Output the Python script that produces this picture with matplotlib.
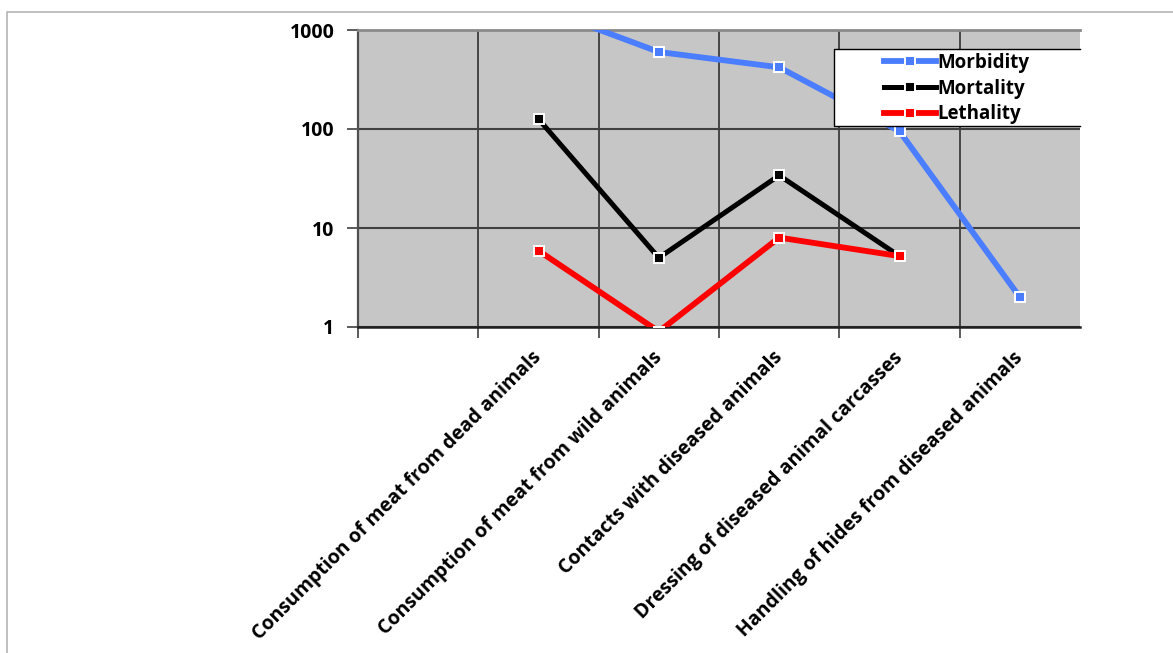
import numpy as np
import matplotlib
matplotlib.use("Agg")
import matplotlib.pyplot as plt
from matplotlib.lines import Line2D
from matplotlib.patches import Rectangle

# categories (first slot of the chart is empty)
categories = ["", "Consumption of meat from dead animals", "Consumption of meat from wild animals",
              "Contacts with diseased animals", "Dressing of diseased animal carcasses",
              "Handling of hides from diseased animals"]
morbidity = [np.nan, 1700, 600, 420, 95, 2]
mortality = [np.nan, 126, 5, 34, 5.2, np.nan]
lethality = [np.nan, 5.9, 0.9, 8, 5.2, np.nan]
y_ticks = [1, 10, 100, 1000]

plt.rcParams['font.family'] = ['Open Sans', 'DejaVu Sans']
plt.rcParams['font.weight'] = 'bold'

W, H = 1173, 653
fig = plt.figure(figsize=(W / 100, H / 100), dpi=100)


def fx(px):
    return px / W


def fy(py):
    return 1 - py / H


# outer chart frame (top and left edges visible)
fig.add_artist(Line2D([fx(7), fx(7), 1], [0, fy(12), fy(12)], color='#b4b4b4', lw=1.2))

ax = fig.add_axes([fx(358), fy(327), fx(1080) - fx(358), fy(30) - fy(327)])
ax.set_facecolor('#c6c6c6')
ax.set_yscale('log')
ax.set_ylim(1, 1000)
x = np.arange(len(categories))
ax.set_xlim(-0.5, len(categories) - 0.5)

# grid
ax.xaxis.set_minor_locator(matplotlib.ticker.FixedLocator(list(x[:-1] + 0.5) + [-0.5]))
ax.grid(True, which='minor', axis='x', color='#303030', lw=1.2)
ax.grid(True, which='major', axis='y', color='#404040', lw=1.5)
ax.set_axisbelow(True)

series = [(morbidity, '#4a7dff', 'Morbidity', 4.2),
          (mortality, 'black', 'Mortality', 3.6),
          (lethality, '#ff0000', 'Lethality', 4.2)]
handles = []
for vals, col, name, lw in series:
    h, = ax.plot(x, vals, color=col, lw=lw, marker='s', markersize=6.5, markerfacecolor=col,
                 markeredgecolor='white', markeredgewidth=1.4, label=name, zorder=3)
    handles.append(h)

ax.set_yticks(y_ticks)
ax.set_yticklabels([str(t) for t in y_ticks])
ax.yaxis.set_minor_locator(matplotlib.ticker.NullLocator())
ax.tick_params(axis='y', which='major', length=8, width=1.2, color='#404040', pad=9, labelsize=14)

ax.set_xticks(x)
ax.set_xticklabels(categories, rotation=45, ha='right', va='center', rotation_mode='anchor', fontsize=14)
ax.tick_params(axis='x', which='major', length=0, pad=20)
ax.tick_params(axis='x', which='minor', length=8, width=1.2, color='#404040')

ax.spines['right'].set_visible(False)
ax.spines['top'].set_color('#8a8a8a')
ax.spines['top'].set_linewidth(2)
ax.spines['left'].set_color('#505050')
ax.spines['left'].set_linewidth(1.6)
ax.spines['bottom'].set_color('#202020')
ax.spines['bottom'].set_linewidth(1.8)

# legend box, open on the right side where the chart area is cut
fig.add_artist(Rectangle((fx(834), fy(126)), fx(1080) - fx(834), fy(49) - fy(126),
                         transform=fig.transFigure, facecolor='white', edgecolor='none', zorder=5))
fig.add_artist(Line2D([fx(1080), fx(834), fx(834), fx(1080)], [fy(49), fy(49), fy(126), fy(126)],
                      color='black', lw=1.0, zorder=6))
leg = fig.legend(handles=handles, loc='upper left', bbox_to_anchor=(fx(884), fy(53)), frameon=False,
                 fontsize=13.5, handlelength=2.75, handletextpad=0.1, labelspacing=0.3, borderpad=0,
                 borderaxespad=0, numpoints=1)
leg.set_zorder(7)

fig.savefig('out.png', dpi=100)
